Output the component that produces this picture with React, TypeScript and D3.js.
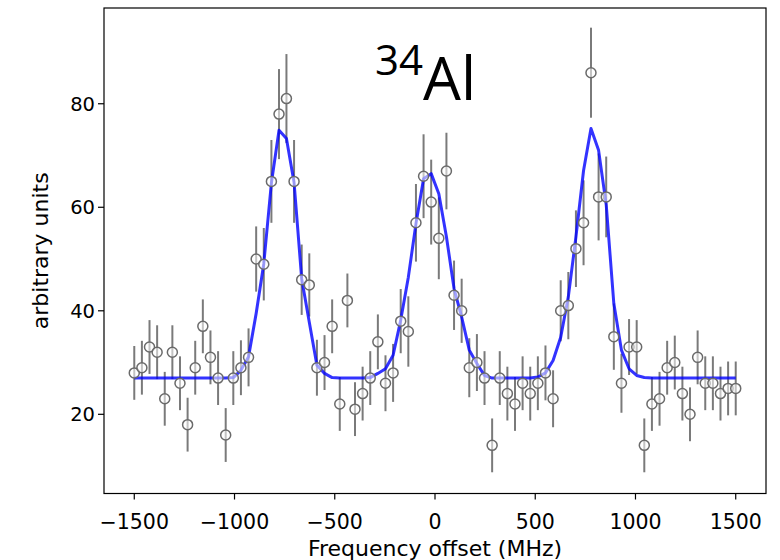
import React from "react";
import * as d3 from "d3";

const freqs = [
  -1500, -1462, -1424, -1386, -1348, -1310, -1272, -1234, -1196, -1158,
  -1120, -1082, -1044, -1006, -968, -930, -892, -854, -816, -778,
  -741, -703, -665, -627, -589, -551, -513, -475, -437, -399,
  -361, -323, -285, -247, -209, -171, -133, -95, -57, -19,
  19, 57, 95, 133, 171, 209, 247, 285, 323, 361,
  399, 437, 475, 513, 551, 589, 627, 665, 703, 741,
  778, 816, 854, 892, 930, 968, 1006, 1044, 1082, 1120,
  1158, 1196, 1234, 1272, 1310, 1348, 1386, 1424, 1462, 1500,
];

const counts = [
  28, 29, 33, 32, 23, 32, 26, 18, 29, 37,
  31, 27, 16, 27, 29, 31, 50, 49, 65, 78,
  81, 65, 46, 45, 29, 30, 37, 22, 42, 21,
  24, 27, 34, 26, 28, 38, 36, 57, 66, 61,
  54, 67, 43, 40, 29, 30, 27, 14, 27, 24,
  22, 26, 24, 26, 28, 23, 40, 41, 52, 57,
  86, 62, 62, 35, 26, 33, 33, 14, 22, 23,
  29, 30, 24, 20, 31, 26, 26, 24, 25, 25,
];

const errors = [
  5.2, 5.2, 5.2, 5.2, 5.2, 5.2, 5.2, 5.2, 5.2, 5.2,
  5.2, 5.2, 5.2, 5.2, 5.3, 5.6, 6.3, 7.0, 8.0, 8.7,
  8.6, 8.0, 6.8, 6.1, 5.4, 5.3, 5.2, 5.2, 5.2, 5.2,
  5.2, 5.2, 5.3, 5.4, 5.6, 6.2, 6.8, 7.5, 8.1, 8.2,
  7.9, 7.4, 6.7, 6.2, 5.7, 5.5, 5.2, 5.2, 5.2, 5.2,
  5.2, 5.2, 5.2, 5.2, 5.3, 5.5, 5.9, 6.5, 7.4, 8.2,
  8.7, 8.4, 7.8, 6.4, 5.7, 5.4, 5.2, 5.2, 5.2, 5.2,
  5.2, 5.2, 5.2, 5.2, 5.2, 5.2, 5.2, 5.2, 5.2, 5.2,
];

const fit = [
  27, 27, 27, 27, 27, 27, 27, 27, 27, 27,
  27, 27, 27, 27.1, 28.5, 31.1, 39.5, 49.1, 64.7, 74.9,
  73.3, 64.8, 46.2, 37.8, 29.5, 27.9, 27.1, 27, 27, 27,
  27, 27.1, 27.9, 28.8, 31.4, 38.2, 46.5, 56.8, 65.5, 66.5,
  62.6, 54.3, 44.3, 38.8, 32.4, 29.8, 27.5, 27, 27, 27,
  27, 27, 27, 27.2, 28.0, 30.4, 34.9, 42.7, 54.3, 67.1,
  75.2, 71.0, 60.5, 41.4, 32.4, 28.8, 27.5, 27.1, 27, 27,
  27, 27, 27, 27, 27, 27, 27, 27, 27, 27,
];

const xTicks = [-1500, -1000, -500, 0, 500, 1000, 1500];
const yTicks = [20, 40, 60, 80];
const xDomain = [-1651, 1651];
const yDomain = [4.7, 98.5];

const W = 780;
const H = 560;
const left = 104;
const right = 766;
const top = 8;
const bottom = 493.5;
const FONT = "DejaVu Sans";

export default function App() {
  const x = d3.scaleLinear().domain(xDomain).range([left, right]);
  const y = d3.scaleLinear().domain(yDomain).range([bottom, top]);
  const line = d3
    .line<number>()
    .x((_, i) => x(freqs[i]))
    .y((d) => y(d));

  const fmt = (v: number) => (v < 0 ? "\u2212" + Math.abs(v) : String(v));

  return (
    <svg
      width={W}
      height={H}
      style={{ position: "absolute", left: 0, top: 0, background: "#fff" }}
      fontFamily={FONT}
    >
      <rect x={0} y={0} width={W} height={H} fill="#fff" />
      <g stroke="#7a7a7a" strokeWidth={2}>
        {counts.map((c, i) => (
          <line
            key={"e" + i}
            x1={x(freqs[i])}
            x2={x(freqs[i])}
            y1={y(c - errors[i])}
            y2={y(c + errors[i])}
          />
        ))}
      </g>
      <path
        d={line(fit) || ""}
        fill="none"
        stroke="#0000ff"
        strokeOpacity={0.8}
        strokeWidth={3}
        strokeLinejoin="round"
      />
      <g stroke="#6a6a6a" strokeWidth={1.5} fill="#ffffff" fillOpacity={0.55}>
        {counts.map((c, i) => (
          <circle key={"c" + i} cx={x(freqs[i])} cy={y(c)} r={5} />
        ))}
      </g>
      <rect
        x={left}
        y={top}
        width={right - left}
        height={bottom - top}
        fill="none"
        stroke="#000"
        strokeWidth={1.2}
      />
      {xTicks.map((t) => (
        <g key={"xt" + t}>
          <line x1={x(t)} x2={x(t)} y1={bottom} y2={bottom + 6} stroke="#000" strokeWidth={1.2} />
          <text x={x(t)} y={bottom + 35} fontSize={20.5} textAnchor="middle" fill="#000">
            {fmt(t)}
          </text>
        </g>
      ))}
      {yTicks.map((t) => (
        <g key={"yt" + t}>
          <line x1={left - 6} x2={left} y1={y(t)} y2={y(t)} stroke="#000" strokeWidth={1.2} />
          <text x={left - 9} y={y(t) + 7} fontSize={19.5} textAnchor="end" fill="#000">
            {t}
          </text>
        </g>
      ))}
      <text x={435} y={556} fontSize={22} textAnchor="middle" fill="#000">
        Frequency offset (MHz)
      </text>
      <text
        transform={`translate(48,${(top + bottom) / 2}) rotate(-90)`}
        fontSize={22}
        textAnchor="middle"
        fill="#000"
      >
        arbitrary units
      </text>
      <text x={375} y={100} fill="#000" fontFamily="Open Sans">
        <tspan fontSize={42} dy={-25}>34</tspan>
        <tspan fontSize={60} dy={25}>Al</tspan>
      </text>
    </svg>
  );
}
